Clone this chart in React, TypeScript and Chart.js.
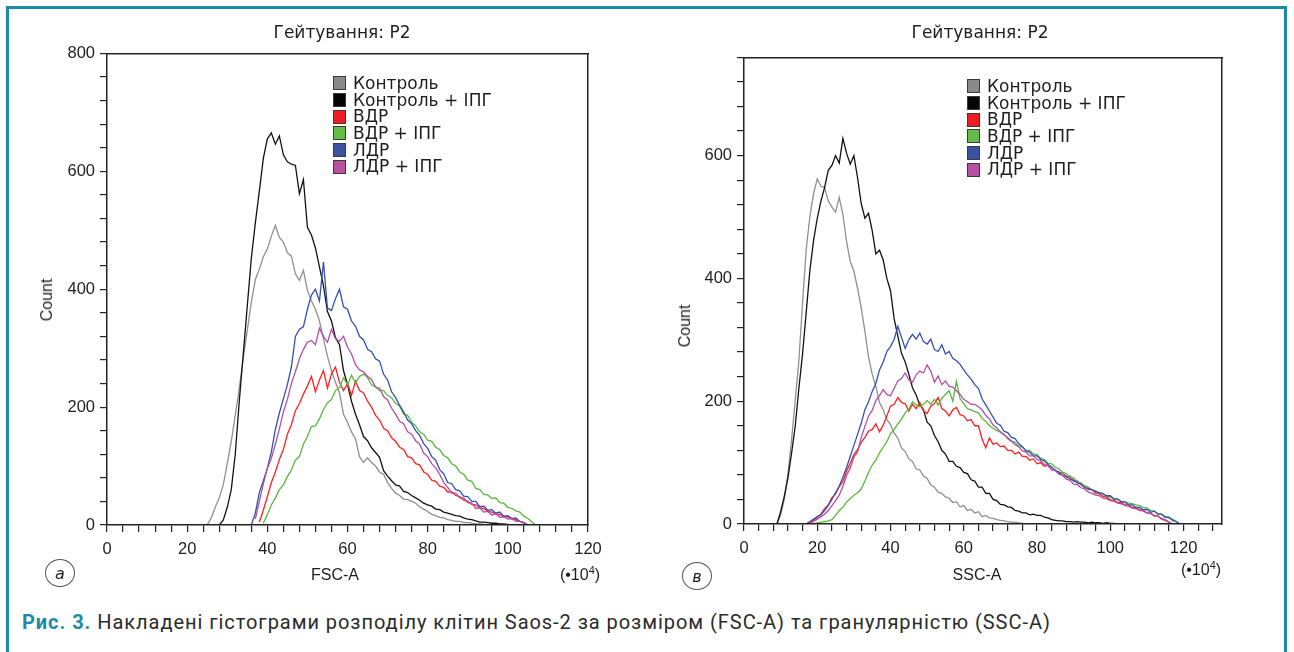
import React, { useEffect, useRef } from "react";
import { Chart, registerables } from "chart.js";
Chart.register(...registerables);

const SERIES_LABELS = ["Контроль", "Контроль + ІПГ", "ВДР", "ВДР + ІПГ", "ЛДР", "ЛДР + ІПГ"];
const SERIES_COLORS = ["#8f8f8f", "#111111", "#ff2020", "#58b83a", "#3450b2", "#b24ea8"];
const LEGEND_COLORS = ["#8a8a8a", "#050505", "#ee1c25", "#67bb47", "#3b52a3", "#b553a2"];

// ---------- Left panel: FSC-A (x in units of 10^4), one value per unit bin ----------
const FSC_STARTS = [25, 28, 38, 39, 36, 37];
const FSC_CONTROL = [0, 12, 30, 46, 68, 104, 142, 186, 232, 284, 330, 378, 416, 434, 455, 468, 490, 508, 488, 480, 462, 456, 426, 415, 432, 398, 380, 366, 346, 316, 286, 262, 242, 224, 188, 174, 158, 146, 116, 106, 114, 106, 100, 90, 86, 72, 62, 54, 50, 44, 43, 40, 37, 31, 27, 23, 18, 16, 13, 12, 9, 8, 6, 6, 4, 4, 3, 2, 2, 1, 0];
const FSC_CONTROL_IPG = [0, 8, 30, 60, 120, 210, 290, 372, 452, 512, 566, 622, 655, 665, 646, 660, 628, 616, 612, 610, 562, 586, 505, 492, 470, 438, 406, 362, 346, 318, 306, 262, 238, 210, 188, 170, 150, 143, 131, 123, 115, 92, 83, 75, 68, 66, 57, 55, 50, 46, 42, 37, 34, 32, 27, 26, 22, 20, 18, 16, 15, 12, 10, 9, 7, 5, 5, 4, 3, 3, 2, 2, 1, 0];
const FSC_VDR = [5, 25, 48, 72, 90, 111, 128, 154, 170, 194, 206, 222, 236, 252, 226, 246, 262, 232, 256, 268, 242, 228, 240, 220, 244, 228, 224, 210, 200, 186, 178, 164, 160, 148, 142, 132, 128, 116, 114, 104, 102, 90, 86, 76, 74, 66, 64, 56, 56, 50, 48, 42, 40, 35, 34, 29, 28, 23, 22, 19, 18, 14, 14, 10, 9, 6, 4, 0];
const FSC_VDR_IPG = [3, 18, 34, 46, 60, 68, 82, 93, 110, 116, 137, 150, 167, 168, 180, 196, 207, 213, 228, 233, 250, 238, 254, 241, 252, 256, 250, 238, 234, 228, 228, 220, 216, 206, 202, 188, 186, 174, 168, 158, 154, 144, 142, 132, 128, 118, 114, 104, 100, 90, 86, 76, 74, 62, 60, 52, 51, 45, 46, 38, 37, 30, 28, 24, 22, 15, 11, 5, 0];
const FSC_LDR = [0, 20, 55, 75, 96, 124, 162, 190, 214, 238, 268, 320, 332, 336, 366, 390, 400, 380, 446, 368, 364, 384, 400, 370, 366, 346, 337, 320, 314, 298, 294, 282, 278, 256, 246, 226, 216, 203, 192, 178, 172, 160, 152, 138, 130, 116, 110, 94, 87, 72, 70, 60, 58, 49, 48, 40, 40, 31, 32, 25, 26, 20, 22, 15, 16, 11, 12, 6, 4, 0];
const FSC_LDR_IPG = [10, 40, 70, 96, 113, 137, 163, 192, 213, 240, 260, 282, 298, 310, 313, 306, 334, 320, 310, 332, 316, 312, 320, 302, 290, 272, 263, 260, 252, 247, 234, 232, 218, 212, 198, 188, 176, 172, 158, 154, 143, 137, 122, 116, 104, 97, 86, 72, 64, 54, 54, 46, 46, 38, 37, 28, 29, 22, 23, 17, 19, 13, 14, 10, 11, 6, 6, 3, 0];
const FSC_SERIES = [FSC_CONTROL, FSC_CONTROL_IPG, FSC_VDR, FSC_VDR_IPG, FSC_LDR, FSC_LDR_IPG];
const FSC_TICKS = [0, 4, 8, 12, 16, 20, 24, 28, 32, 36, 40, 44, 48, 52, 56, 60, 64, 68, 72, 76, 80, 84, 88, 92, 96, 100, 104, 108, 112, 116, 120];
const FSC_LABELS = [0, 20, 40, 60, 80, 100, 120];
const FSC_COUNT_TICKS = [0, 40, 80, 120, 160, 200, 240, 280, 320, 360, 400, 440, 480, 520, 560, 600, 640, 680, 720, 760, 800];
const FSC_COUNT_LABELS = [0, 200, 400, 600, 800];

// ---------- Right panel: SSC-A ----------
const SSC_STARTS = [9, 9, 17, 19, 17, 18];
const SSC_CONTROL = [0, 15, 40, 82, 138, 202, 268, 362, 448, 502, 538, 562, 550, 548, 526, 516, 508, 532, 504, 460, 428, 412, 384, 352, 314, 272, 244, 224, 198, 186, 170, 162, 148, 140, 124, 118, 106, 102, 90, 88, 78, 74, 64, 60, 52, 50, 44, 42, 35, 36, 28, 30, 22, 24, 18, 20, 12, 14, 10, 9, 7, 6, 5, 4, 3, 3, 2, 1, 0];
const SSC_CONTROL_IPG = [0, 20, 45, 75, 116, 160, 222, 278, 346, 414, 462, 498, 526, 548, 576, 584, 600, 588, 628, 604, 586, 600, 564, 522, 498, 506, 478, 440, 446, 430, 400, 380, 334, 306, 278, 264, 244, 222, 210, 194, 186, 166, 160, 144, 134, 120, 114, 102, 102, 94, 92, 84, 82, 72, 70, 60, 60, 50, 50, 40, 38, 32, 31, 28, 27, 22, 21, 18, 18, 15, 16, 14, 14, 11, 10, 7, 6, 5, 5, 4, 4, 3, 4, 3, 3, 2, 3, 2, 2, 1, 2, 1, 1, 0];
const SSC_VDR = [0, 3, 6, 11, 16, 25, 31, 43, 49, 61, 69, 86, 99, 113, 121, 133, 141, 151, 154, 163, 150, 161, 176, 192, 195, 206, 198, 196, 184, 195, 188, 198, 184, 180, 192, 196, 206, 188, 184, 176, 186, 190, 178, 176, 168, 170, 160, 160, 138, 124, 140, 130, 132, 126, 127, 120, 120, 114, 117, 110, 110, 104, 106, 98, 100, 94, 96, 88, 88, 82, 84, 76, 78, 70, 70, 64, 62, 56, 56, 50, 49, 45, 44, 39, 39, 35, 35, 31, 31, 27, 27, 23, 23, 18, 18, 13, 13, 8, 6, 3, 0];
const SSC_VDR_IPG = [0, 2, 3, 4, 5, 7, 14, 22, 27, 36, 41, 47, 51, 57, 70, 84, 96, 104, 116, 125, 134, 147, 154, 163, 171, 181, 187, 199, 194, 191, 195, 201, 195, 203, 194, 205, 211, 217, 200, 232, 204, 196, 188, 186, 183, 181, 172, 167, 160, 156, 152, 151, 145, 141, 135, 133, 127, 125, 120, 120, 114, 113, 107, 105, 99, 98, 92, 90, 84, 82, 76, 75, 68, 67, 62, 60, 55, 54, 50, 50, 45, 44, 40, 40, 37, 36, 34, 33, 31, 30, 27, 26, 22, 21, 17, 16, 12, 10, 8, 4, 0];
const SSC_LDR = [0, 4, 8, 12, 15, 22, 30, 40, 51, 62, 76, 92, 110, 128, 146, 164, 186, 199, 216, 229, 251, 264, 281, 289, 301, 322, 304, 286, 300, 309, 301, 311, 297, 293, 301, 284, 281, 292, 277, 281, 270, 266, 260, 251, 243, 236, 227, 221, 204, 194, 184, 174, 164, 161, 151, 149, 141, 139, 131, 126, 119, 117, 111, 111, 105, 103, 97, 93, 87, 85, 79, 78, 73, 71, 67, 65, 59, 58, 56, 53, 51, 49, 46, 46, 41, 41, 36, 36, 31, 31, 27, 27, 23, 24, 19, 21, 16, 16, 11, 11, 6, 4, 0];
const SSC_LDR_IPG = [0, 4, 8, 12, 16, 22, 30, 38, 47, 61, 79, 91, 109, 117, 141, 159, 176, 185, 201, 209, 219, 211, 209, 221, 233, 237, 246, 235, 231, 243, 249, 246, 259, 249, 231, 241, 227, 233, 224, 223, 217, 211, 203, 199, 195, 195, 191, 186, 177, 171, 161, 157, 149, 146, 139, 135, 129, 126, 119, 117, 111, 111, 105, 103, 97, 95, 89, 87, 81, 79, 73, 71, 65, 64, 59, 57, 52, 50, 47, 46, 42, 41, 38, 37, 34, 33, 30, 29, 26, 25, 22, 21, 18, 17, 14, 13, 9, 7, 3, 0];
const SSC_SERIES = [SSC_CONTROL, SSC_CONTROL_IPG, SSC_VDR, SSC_VDR_IPG, SSC_LDR, SSC_LDR_IPG];
const SSC_TICKS = [0, 4, 8, 12, 16, 20, 24, 28, 32, 36, 40, 44, 48, 52, 56, 60, 64, 68, 72, 76, 80, 84, 88, 92, 96, 100, 104, 108, 112, 116, 120, 124, 128];
const SSC_LABELS = [0, 20, 40, 60, 80, 100, 120];
const SSC_COUNT_TICKS = [0, 40, 80, 120, 160, 200, 240, 280, 320, 360, 400, 440, 480, 520, 560, 600, 640, 680, 720, 760];
const SSC_COUNT_LABELS = [0, 200, 400, 600];

const TEAL = "#1b8ba8";
const INK = "#1e1e1e";

type PanelProps = {
  left: number; width: number; height: number;
  title: string; titlePadTop: number; titlePadBottom: number;
  xMax: number; yMax: number;
  xTicks: number[]; xLabels: number[]; yTicks: number[]; yLabels: number[];
  starts: number[]; series: number[][];
  yAxisWidth: number; rightWidth: number; xAxisHeight: number;
};

function Panel(p: PanelProps) {
  const ref = useRef<HTMLCanvasElement>(null);
  useEffect(() => {
    if (!ref.current) return;
    const tickFont = { family: "'Liberation Sans', Arial, sans-serif", size: 16.5 };
    const tickGrid = {
      display: true, drawOnChartArea: false, drawTicks: true, tickLength: 7,
      color: "#222", lineWidth: 1.2, tickColor: "#222", tickWidth: 1.2, z: 1,
    };
    const axisBorder = { display: true, color: "#222", width: 1.5, z: 1 };
    const datasets = p.series.map((vals, i) => ({
      label: SERIES_LABELS[i],
      data: vals.map((v, j) => ({ x: p.starts[i] + j, y: v })),
      borderColor: SERIES_COLORS[i],
      backgroundColor: SERIES_COLORS[i],
      borderWidth: 1.3,
      pointRadius: 0,
      fill: false,
      tension: 0,
      order: 6 - i,
    }));
    const chart = new Chart(ref.current, {
      type: "line",
      data: { datasets },
      options: {
        animation: false,
        responsive: false,
        devicePixelRatio: 1,
        layout: { padding: 0 },
        plugins: {
          legend: { display: false },
          tooltip: { enabled: false },
          title: {
            display: true,
            text: p.title,
            color: INK,
            font: { family: "'DejaVu Sans', sans-serif", size: 17, weight: "normal", lineHeight: 1.2 },
            padding: { top: p.titlePadTop, bottom: p.titlePadBottom },
          },
        },
        scales: {
          x: {
            type: "linear",
            min: 0,
            max: p.xMax,
            afterBuildTicks: (s: any) => { s.ticks = p.xTicks.map((v) => ({ value: v })); },
            afterFit: (s: any) => { s.height = p.xAxisHeight; },
            ticks: {
              autoSkip: false, maxRotation: 0, minRotation: 0, padding: 8,
              color: INK, font: tickFont,
              callback: (v: any) => (p.xLabels.includes(Number(v)) ? String(v) : ""),
            },
            grid: tickGrid,
            border: axisBorder,
          },
          y: {
            type: "linear",
            min: 0,
            max: p.yMax,
            afterBuildTicks: (s: any) => { s.ticks = p.yTicks.map((v) => ({ value: v })); },
            afterFit: (s: any) => { s.width = p.yAxisWidth; },
            ticks: {
              autoSkip: false, padding: 5, color: INK, font: tickFont,
              callback: (v: any) => (p.yLabels.includes(Number(v)) ? String(v) : ""),
            },
            grid: tickGrid,
            border: axisBorder,
          },
          x2: {
            type: "linear", position: "top", min: 0, max: 1,
            ticks: { display: false },
            grid: { drawOnChartArea: false, drawTicks: false },
            border: { display: true, color: "#222", width: 1.5 },
            afterFit: (s: any) => { s.height = 0; },
          },
          y2: {
            type: "linear", position: "right", min: 0, max: 1,
            ticks: { display: false },
            grid: { drawOnChartArea: false, drawTicks: false },
            border: { display: true, color: "#222", width: 1.5 },
            afterFit: (s: any) => { s.width = p.rightWidth; },
          },
        },
      },
    } as any);
    return () => chart.destroy();
  }, []);
  return (
    <canvas
      ref={ref}
      width={p.width}
      height={p.height}
      style={{ position: "absolute", left: p.left, top: 0, width: p.width, height: p.height }}
    />
  );
}

function Legend({ left, top }: { left: number; top: number }) {
  return (
    <div style={{ position: "absolute", left, top, fontFamily: "'DejaVu Sans', sans-serif", fontSize: 17, color: INK }}>
      {SERIES_LABELS.map((l, i) => (
        <div key={l} style={{ display: "flex", alignItems: "center", height: 16.7, whiteSpace: "nowrap" }}>
          <span style={{ display: "inline-block", width: 13, height: 14, boxSizing: "border-box", background: LEGEND_COLORS[i], border: "1.5px solid #3a3a3a", marginRight: 7 }} />
          <span style={{ lineHeight: "16.7px" }}>{l}</span>
        </div>
      ))}
    </div>
  );
}

function Text({ x, y, children, style }: { x: number; y: number; children: any; style?: any }) {
  return (
    <div style={{ position: "absolute", left: x, top: y, transform: "translate(-50%, -50%)", whiteSpace: "nowrap", fontFamily: "'Liberation Sans', Arial, sans-serif", fontSize: 16, color: INK, ...style }}>
      {children}
    </div>
  );
}

function Circle({ x, y, letter }: { x: number; y: number; letter: string }) {
  return (
    <div style={{ position: "absolute", left: x - 15, top: y - 14, width: 30, height: 28, borderRadius: "50%", border: "1px solid #555", boxSizing: "border-box", display: "flex", alignItems: "center", justifyContent: "center", fontFamily: "'DejaVu Sans', sans-serif", fontStyle: "italic", fontSize: 16, color: INK }}>
      {letter}
    </div>
  );
}

export default function App() {
  return (
    <div style={{ position: "absolute", left: 0, top: 0, width: 1294, height: 652, overflow: "hidden", background: "#fff" }}>
      <div style={{ position: "absolute", left: 6, top: 6, width: 1281, height: 700, border: `3px solid ${TEAL}`, boxSizing: "border-box" }} />
      <Panel left={0} width={684} height={600} title="Гейтування: P2" titlePadTop={23} titlePadBottom={10}
        xMax={120} yMax={800} xTicks={FSC_TICKS} xLabels={FSC_LABELS} yTicks={FSC_COUNT_TICKS} yLabels={FSC_COUNT_LABELS}
        starts={FSC_STARTS} series={FSC_SERIES} yAxisWidth={107} rightWidth={96} xAxisHeight={75} />
      <Panel left={640} width={680} height={600} title="Гейтування: P2" titlePadTop={23} titlePadBottom={14}
        xMax={130.5} yMax={760} xTicks={SSC_TICKS} xLabels={SSC_LABELS} yTicks={SSC_COUNT_TICKS} yLabels={SSC_COUNT_LABELS}
        starts={SSC_STARTS} series={SSC_SERIES} yAxisWidth={104} rightWidth={98} xAxisHeight={76} />
      <Legend left={333} top={75} />
      <Legend left={967} top={78} />
      <Text x={47} y={300} style={{ transform: "translate(-50%, -50%) rotate(-90deg)" }}>Count</Text>
      <Text x={685} y={326} style={{ transform: "translate(-50%, -50%) rotate(-90deg)" }}>Count</Text>
      <Text x={335} y={575}>FSC-A</Text>
      <Text x={977} y={575}>SSC-A</Text>
      <Text x={580} y={574}>(•10<sup style={{ fontSize: 11 }}>4</sup>)</Text>
      <Text x={1201} y={569}>(•10<sup style={{ fontSize: 11 }}>4</sup>)</Text>
      <Circle x={60} y={573} letter="а" />
      <Circle x={697} y={576} letter="в" />
      <div style={{ position: "absolute", left: 22, top: 609, whiteSpace: "nowrap", fontFamily: "Roboto, sans-serif", fontSize: 20, letterSpacing: 0.95, lineHeight: "26px", color: "#2b2b2b" }}>
        <span style={{ color: TEAL, fontWeight: "bold" }}>Рис. 3.</span> Накладені гістограми розподілу клітин Saos-2 за розміром (FSC-A) та гранулярністю (SSC-A)
      </div>
    </div>
  );
}
